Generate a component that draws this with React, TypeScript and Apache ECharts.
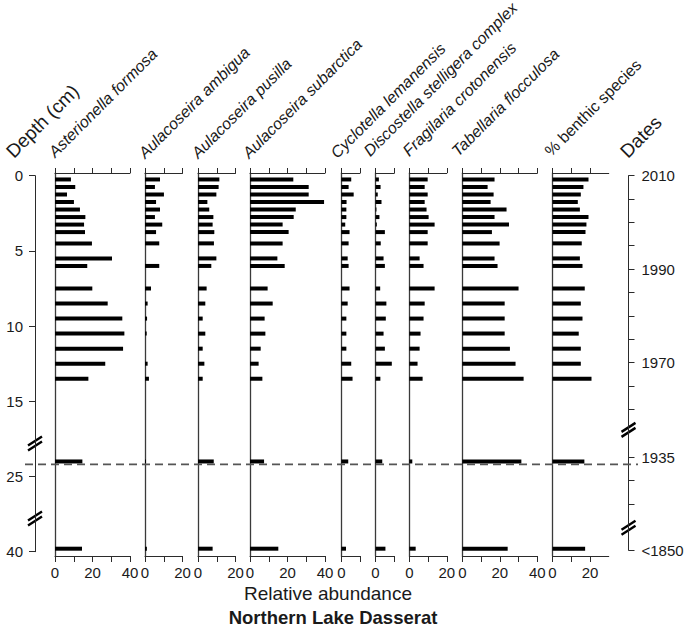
import React, { useEffect, useRef } from "react";
import * as echarts from "echarts";

// ---------------- data ----------------
const depths = [0.25, 0.75, 1.25, 1.75, 2.25, 2.75, 3.25, 3.75, 4.5, 5.5, 6, 7.5, 8.5, 9.5, 10.5, 11.5, 12.5, 13.5, 24, 39.8];

const asterionellaFormosa = [8.5, 10.8, 6.4, 10.1, 13.3, 16.2, 15.5, 16, 19.7, 30.4, 17.2, 19.9, 28.1, 35.9, 37, 36.3, 26.8, 17.8, 14.6, 14.4];
const aulacoseiraAmbigua = [8, 5.3, 10.1, 5.9, 8, 5.3, 9.2, 5.9, 7.6, 0, 7.6, 3.2, 1.4, 1.1, 0.9, 0, 1.4, 2.1, 0.5, 1];
const aulacoseiraPusilla = [11.4, 11, 9.8, 5, 6, 8.2, 7.8, 8.7, 8.5, 9.8, 7.1, 4.6, 3.9, 2.5, 3.9, 2.5, 3.4, 2.5, 8.4, 7.8];
const aulacoseiraSubarctica = [23.1, 31.3, 31.3, 39.5, 24.4, 23.3, 17.4, 20.6, 17.4, 14.6, 18.5, 9.4, 12.1, 7.8, 8.2, 5.7, 4.6, 6.6, 7.5, 15.1];
const cyclotellaLemanensis = [5.3, 3.9, 6.6, 2.8, 2.7, 2.7, 2.1, 4.4, 3.9, 3.4, 3.9, 4.4, 3.4, 2.7, 2.7, 2.7, 5.3, 6, 3.7, 2.5];
const discostellaStelligera = [1.8, 2.7, 1.2, 3.2, 0.5, 2.1, 0.7, 5, 2.8, 4.3, 5, 2.5, 5.8, 5.5, 4.3, 5, 8.7, 2.6, 3.6, 5.3];
const fragilariaCrotonensis = [9.8, 8.2, 9.8, 8.2, 9.2, 10.3, 13.5, 9.8, 9.8, 5.5, 7.6, 13.5, 8.2, 7.6, 6, 5.5, 4.4, 7.1, 1.6, 3.4];
const tabellariaFlocculosa = [17.2, 13.5, 16.7, 15.1, 23.6, 17.2, 24.9, 15.8, 19.9, 17.2, 18.8, 30, 22.6, 22.6, 22.6, 25.4, 28.4, 32.7, 31.5, 24.2];
const benthicPercent = [19.2, 16.5, 15.1, 13.5, 14.6, 19.2, 18.1, 17.6, 15.6, 14.6, 16, 17.2, 15.1, 16, 14, 15.1, 15.1, 20.8, 17, 17.4];

const speciesNames = [
  "Asterionella formosa",
  "Aulacoseira ambigua",
  "Aulacoseira pusilla",
  "Aulacoseira subarctica",
  "Cyclotella lemanensis",
  "Discostella stelligera complex",
  "Fragilaria crotonensis",
  "Tabellaria flocculosa",
  "% benthic species",
];
const speciesValues = [
  asterionellaFormosa,
  aulacoseiraAmbigua,
  aulacoseiraPusilla,
  aulacoseiraSubarctica,
  cyclotellaLemanensis,
  discostellaStelligera,
  fragilariaCrotonensis,
  tabellariaFlocculosa,
  benthicPercent,
];
const panelMax = [40, 20, 20, 40, 10, 10, 20, 40, 30];
const xLabelValues = [0, 20, 40];

const depthTicks = [0, 5, 10, 15, 25, 40];
const dateTickYears = [2010, 2005, 2000, 1995, 1990, 1985, 1980, 1975, 1970, 1965, 1960, 1935, 1930, 1925];
const dateLabelYears = [2010, 1990, 1970, 1935];
const oldestDateLabel = "<1850";
const dashedDepth = 24.2;

// ---------------- layout ----------------
const FONT = "Liberation Sans";
const PX_PER_UNIT = 1.875;
const panelLeft = [55, 145, 198, 250, 341.3, 375.5, 409.3, 462.3, 552.5];
const labelPos = [
  [57, 160], [147, 161], [200, 161], [251, 161], [339, 161], [372, 159], [411, 159], [460, 159], [553, 159],
];
const PANEL_TOP = 173;
const PANEL_H = 383;
const Y0 = 175.7;
const PX_PER_DEPTH = 15.04;
const yMin = (PANEL_TOP - Y0) / PX_PER_DEPTH;
const yMax = (PANEL_TOP + PANEL_H - Y0) / PX_PER_DEPTH;
const OLDEST_AXIS = 24.9;
const depthBreaks = [17.8, 22.8];
const dateBreaks = [16.9, 23.4];

// broken depth axis: 0-17 linear, 20-30 around "25", 35-40 around "40"
function depthToAxis(d: number) {
  if (d <= 17) return d;
  if (d <= 32) return 20 + (d - 25);
  return 25 + (d - 40);
}
function yearToAxis(y: number) {
  if (y >= 1955) return (2010 - y) * 0.3105;
  return 18.72 + (1935 - y) * 0.3105;
}

const textColor = "#1a1a1a";
const axisColor = "#2b2b2b";

export default function App() {
  const ref = useRef<HTMLDivElement>(null);
  useEffect(() => {
    if (!ref.current) return;
    const chart = echarts.init(ref.current, undefined, { renderer: "svg" });

    const grid: any[] = [];
    const xAxis: any[] = [];
    const yAxis: any[] = [];
    const series: any[] = [];

    speciesValues.forEach((vals, i) => {
      const max = panelMax[i];
      grid.push({
        left: panelLeft[i],
        top: PANEL_TOP,
        width: max * PX_PER_UNIT,
        height: PANEL_H,
        containLabel: false,
        outerBoundsMode: "none",
      });
      const ticks: number[] = [];
      for (let t = 0; t <= max; t += 10) {
        if (!(i === 8 && t === 30)) ticks.push(t);
      }
      const labels = xLabelValues.filter((v) => v <= max && !(max === 10 && v > 0));
      xAxis.push({
        gridIndex: i,
        type: "value",
        position: "top",
        min: 0,
        max,
        axisLine: { show: true, onZero: false, lineStyle: { color: axisColor, width: 1 } },
        axisTick: { show: true, length: 5, customValues: ticks, lineStyle: { color: axisColor, width: 1 } },
        axisLabel: { show: false },
        splitLine: { show: false },
      });
      xAxis.push({
        gridIndex: i,
        type: "value",
        position: "bottom",
        min: 0,
        max,
        axisLine: { show: true, onZero: false, lineStyle: { color: axisColor, width: 1 } },
        axisTick: { show: true, length: 6, customValues: ticks, lineStyle: { color: axisColor, width: 1 } },
        axisLabel: {
          show: true,
          customValues: labels,
          margin: 9,
          fontFamily: FONT,
          fontSize: 15,
          color: textColor,
          formatter: (v: number) => String(Math.round(v)),
        },
        splitLine: { show: false },
      });
      yAxis.push({
        gridIndex: i,
        type: "value",
        inverse: true,
        min: yMin,
        max: yMax,
        axisLine: { show: true, onZero: false, lineStyle: { color: "#3a3a3a", width: 1.3 } },
        axisTick: { show: false },
        axisLabel: { show: false },
        splitLine: { show: false },
      });
      series.push({
        type: "custom",
        coordinateSystem: "cartesian2d",
        xAxisIndex: 2 * i + 1,
        yAxisIndex: i,
        silent: true,
        encode: { x: 0, y: 1 },
        data: depths.map((d, k) => [vals[k], depthToAxis(d)]),
        renderItem: (params: any, api: any) => {
          const v = api.value(0);
          const d = api.value(1);
          if (!v) return null;
          const p0 = api.coord([0, d]);
          const p1 = api.coord([v, d]);
          return {
            type: "rect",
            shape: { x: p0[0], y: p0[1] - 2, width: p1[0] - p0[0], height: 4 },
            style: { fill: "#000" },
          };
        },
      });
    });

    // depth axis grid (index 9)
    grid.push({ left: 35, top: Y0, width: 10, height: 25 * PX_PER_DEPTH, containLabel: false, outerBoundsMode: "none" });
    xAxis.push({ gridIndex: 9, type: "value", show: false, min: 0, max: 1 });
    const depthAxisVals = depthTicks.map(depthToAxis);
    yAxis.push({
      gridIndex: 9,
      type: "value",
      position: "left",
      inverse: true,
      min: 0,
      max: 25,
      axisLine: { show: true, onZero: false, lineStyle: { color: axisColor, width: 1 } },
      axisTick: { show: true, length: 6, customValues: depthAxisVals, lineStyle: { color: axisColor, width: 1 } },
      axisLabel: {
        show: true,
        customValues: depthAxisVals,
        margin: 12,
        fontFamily: FONT,
        fontSize: 15,
        color: textColor,
        formatter: (v: number) => {
          const k = depthAxisVals.findIndex((a) => Math.abs(a - v) < 0.01);
          return k >= 0 ? String(depthTicks[k]) : "";
        },
      },
      splitLine: { show: false },
    });

    // date axis grid (index 10)
    grid.push({ left: 618.5, top: Y0, width: 10, height: OLDEST_AXIS * PX_PER_DEPTH, containLabel: false, outerBoundsMode: "none" });
    xAxis.push({ gridIndex: 10, type: "value", show: false, min: 0, max: 1 });
    const dateTickVals = dateTickYears.map(yearToAxis).concat([OLDEST_AXIS]);
    const dateLabelVals = dateLabelYears.map(yearToAxis).concat([OLDEST_AXIS]);
    const dateLabelText = dateLabelYears.map(String).concat([oldestDateLabel]);
    yAxis.push({
      gridIndex: 10,
      type: "value",
      position: "right",
      inverse: true,
      min: 0,
      max: OLDEST_AXIS,
      axisLine: { show: true, onZero: false, lineStyle: { color: axisColor, width: 1 } },
      axisTick: { show: true, length: 6, customValues: dateTickVals, lineStyle: { color: axisColor, width: 1 } },
      axisLabel: {
        show: true,
        customValues: dateLabelVals,
        margin: 13,
        fontFamily: FONT,
        fontSize: 15,
        color: textColor,
        formatter: (v: number) => {
          const k = dateLabelVals.findIndex((a) => Math.abs(a - v) < 0.01);
          return k >= 0 ? dateLabelText[k] : "";
        },
      },
      splitLine: { show: false },
    });

    chart.setOption({
      animation: false,
      backgroundColor: "#fff",
      grid,
      xAxis,
      yAxis,
      series,
    });

    const toPx = (axisIdx: number, v: number) => chart.convertToPixel({ yAxisIndex: axisIdx } as any, v) as number;

    const breakMark = (x: number, y: number) => ({
      type: "group",
      x,
      y,
      z: 100,
      children: [
        { type: "polygon", shape: { points: [[-3, -0.6], [3, -4.4], [3, 0.6], [-3, 4.4]] }, style: { fill: "#fff" } },
        { type: "line", shape: { x1: -7, y1: 2, x2: 7, y2: -7 }, style: { stroke: "#000", lineWidth: 2.4 } },
        { type: "line", shape: { x1: -7, y1: 7, x2: 7, y2: -2 }, style: { stroke: "#000", lineWidth: 2.4 } },
      ],
    });

    const rotText = (text: string, x: number, y: number, font: string) => ({
      type: "text",
      x,
      y,
      rotation: Math.PI / 4,
      z: 100,
      style: {
        text,
        x: 0,
        y: 0,
        font,
        fill: textColor,
        align: "left",
        verticalAlign: "bottom",
        textAlign: "left",
        textVerticalAlign: "bottom",
      },
    });

    const dashY = toPx(9, depthToAxis(dashedDepth));
    const graphics: any[] = [];
    speciesNames.forEach((name, i) => {
      const italic = i < 8;
      graphics.push(rotText(name, labelPos[i][0], labelPos[i][1], `${italic ? "italic " : ""}16px "${FONT}"`));
    });
    graphics.push(rotText("Depth (cm)", 16, 161, `19px "${FONT}"`));
    graphics.push(rotText("Dates", 630, 161, `19px "${FONT}"`));
    graphics.push({
      type: "line",
      z: 100,
      shape: { x1: 25, y1: dashY, x2: 638, y2: dashY },
      style: { stroke: "#555", lineWidth: 1.8, lineDash: [8, 5] },
    });
    depthBreaks.forEach((b) => graphics.push(breakMark(35, toPx(9, b))));
    dateBreaks.forEach((b) => graphics.push(breakMark(628.5, toPx(10, b))));
    graphics.push({
      type: "text",
      x: 328,
      y: 593,
      z: 100,
      style: { text: "Relative abundance", font: `19px "${FONT}"`, fill: textColor, align: "center", verticalAlign: "middle", textAlign: "center", textVerticalAlign: "middle" },
    });
    graphics.push({
      type: "text",
      x: 333,
      y: 617,
      z: 100,
      style: { text: "Northern Lake Dasserat", font: `bold 18.5px "${FONT}"`, fill: textColor, align: "center", verticalAlign: "middle", textAlign: "center", textVerticalAlign: "middle" },
    });

    chart.setOption({ graphic: graphics });

    return () => chart.dispose();
  }, []);

  return (
    <div
      ref={ref}
      style={{ position: "fixed", left: 0, top: 0, width: 689, height: 628, background: "#fff" }}
    />
  );
}
